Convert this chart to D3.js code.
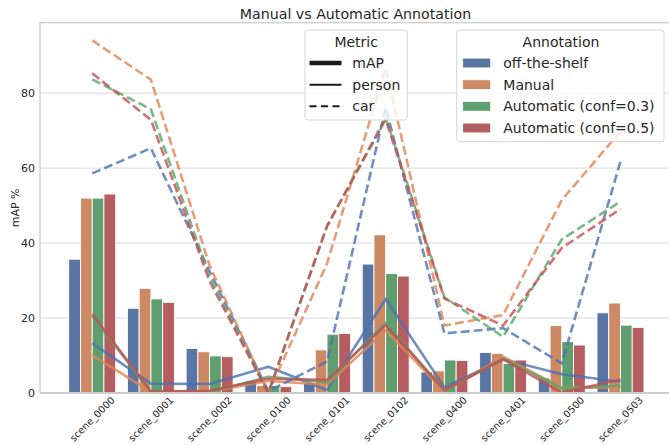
<!DOCTYPE html>
<html><head><meta charset="utf-8">
<script src="https://cdn.jsdelivr.net/npm/d3@7"></script>
<style>body{margin:0;background:#fff;} svg{display:block;font-family:"DejaVu Sans",sans-serif;}</style>
</head><body><svg id="c" width="669" height="445"></svg>
<script>
const scenes = ["scene_0000","scene_0001","scene_0002","scene_0100","scene_0101","scene_0102","scene_0400","scene_0401","scene_0500","scene_0503"];
const annotations = ["off-the-shelf","Manual","Automatic (conf=0.3)","Automatic (conf=0.5)"];
const metrics = ["mAP","person","car"];
const yTicks = [0,20,40,60,80];

// mAP (bars)
const mapOffShelf = [35.7,22.6,11.9,3.2,2.7,34.4,5.6,10.8,4.0,21.4];
const mapManual   = [52.0,27.9,11.0,2.0,11.5,42.2,5.9,10.6,18.0,24.0];
const mapAuto03   = [52.0,25.1,9.9,2.0,15.7,31.9,8.8,7.9,13.7,18.1];
const mapAuto05   = [53.1,24.2,9.7,1.7,15.9,31.2,8.7,8.8,12.8,17.5];
// person (solid lines)
const personOffShelf = [13.3,2.5,2.4,7.0,0.8,25.1,1.5,9.0,5.0,3.0];
const personManual   = [10.1,0.3,0.3,3.2,2.2,16.7,0.4,9.7,1.4,1.4];
const personAuto03   = [20.5,0.3,0.3,4.3,2.9,18.8,0.6,9.2,1.2,2.0];
const personAuto05   = [21.1,0.4,0.6,3.8,3.5,18.1,0.8,9.0,0.1,3.6];
// car (dashed lines)
const carOffShelf = [58.6,65.3,32.5,0.5,8.4,76.2,15.9,17.3,7.9,61.8];
const carManual   = [94.1,83.6,34.0,0.0,34.5,86.7,18.0,20.8,51.5,69.8];
const carAuto03   = [83.7,75.7,31.0,0.0,44.5,73.5,25.5,15.0,41.0,51.1];
const carAuto05   = [85.3,72.9,29.8,0.0,44.5,73.0,25.2,18.0,38.7,49.1];

const barColors  = ["#5975a4","#cc8963","#5f9e6e","#b55d60"];
const lineColors = ["#4c72b0","#dd8452","#55a868","#c44e52"];

const mapVals = [mapOffShelf,mapManual,mapAuto03,mapAuto05];
const personVals = [personOffShelf,personManual,personAuto03,personAuto05];
const carVals = [carOffShelf,carManual,carAuto03,carAuto05];

const svg = d3.select("#c");
const L = 40, R = 671, T = 22.7, B = 393;
const textCol = "#262626";

const x = d3.scaleBand().domain(scenes).range([62.85, 649.85]).padding(0);
const xi = d3.scaleBand().domain(annotations).range([x.bandwidth()*0.1, x.bandwidth()*0.9]).padding(0);
const y = d3.scaleLinear().domain([0, 98.8]).range([B, T]);

svg.append("defs").append("clipPath").attr("id","pc")
  .append("rect").attr("x",L).attr("y",T).attr("width",R-L).attr("height",B-T);

// grid
svg.append("g").selectAll("line").data(yTicks).join("line")
  .attr("x1",L).attr("x2",R).attr("y1",d=>y(d)).attr("y2",d=>y(d))
  .attr("stroke","#d9d9d9").attr("stroke-width",1);

// y axis labels
const yAxis = d3.axisLeft(y).tickValues(yTicks).tickSize(0).tickPadding(5);
const gy = svg.append("g").attr("transform",`translate(${L},0)`).call(yAxis);
gy.select(".domain").remove();
gy.selectAll("text").attr("font-size",11).attr("fill",textCol).attr("font-family","DejaVu Sans");

// bars
const plot = svg.append("g").attr("clip-path","url(#pc)");
annotations.forEach((a,j)=>{
  plot.append("g").selectAll("rect").data(scenes).join("rect")
    .attr("x",(s)=>x(s)+xi(a)).attr("width",xi.bandwidth())
    .attr("y",(s,i)=>y(mapVals[j][i])).attr("height",(s,i)=>B-y(mapVals[j][i]))
    .attr("fill",barColors[j]).attr("stroke","#ffffff").attr("stroke-width",0.9);
});

// lines
const cx = s => x(s) + x.bandwidth()/2;
const line = d3.line().x(d=>cx(d.s)).y(d=>y(d.v));
annotations.forEach((a,j)=>{
  plot.append("path").datum(scenes.map((s,i)=>({s,v:personVals[j][i]})))
    .attr("d",line).attr("fill","none").attr("stroke",lineColors[j]).attr("stroke-opacity",0.8)
    .attr("stroke-width",2.6).attr("stroke-linejoin","round");
});
annotations.forEach((a,j)=>{
  plot.append("path").datum(scenes.map((s,i)=>({s,v:carVals[j][i]})))
    .attr("d",line).attr("fill","none").attr("stroke",lineColors[j]).attr("stroke-opacity",0.8)
    .attr("stroke-width",2.6).attr("stroke-dasharray","9,4");
});

// frame
svg.append("rect").attr("x",L).attr("y",T).attr("width",R-L).attr("height",B-T)
  .attr("fill","none").attr("stroke","#cccccc").attr("stroke-width",1.25);
svg.append("line").attr("x1",L).attr("x2",R).attr("y1",B).attr("y2",B).attr("stroke","#cccccc").attr("stroke-width",2);

// x axis labels
const xAxis = d3.axisBottom(x).tickSize(0).tickPadding(0);
const gx = svg.append("g").attr("transform",`translate(0,${B})`).call(xAxis);
gx.select(".domain").remove();
gx.selectAll(".tick text").each(function(){
  const t = d3.select(this);
  t.attr("font-size",9.8).attr("fill",textCol).attr("font-family","DejaVu Sans")
   .attr("text-anchor","middle").attr("dy","0.35em").attr("y",0);
  const len = this.getComputedTextLength();
  const h = (len + 9.8*1.1)*Math.SQRT1_2;
  t.attr("transform",`translate(0,${1.5 + h/2}) rotate(-45)`);
});

// y label
svg.append("text").attr("transform",`translate(15,${(T+B)/2}) rotate(-90)`)
  .attr("text-anchor","middle").attr("dy","0.35em").attr("font-size",11).attr("fill",textCol).text("mAP %");

// title
svg.append("text").attr("x",(L+R)/2).attr("y",18.8).attr("text-anchor","middle")
  .attr("font-size",14.2).attr("fill",textCol).text("Manual vs Automatic Annotation");

// legends
const rowY = [63, 84.7, 106.3, 128];
// Metric legend
const lg1 = svg.append("g");
lg1.append("rect").attr("x",305).attr("y",30).attr("width",102.3).attr("height",90).attr("rx",3)
  .attr("fill","#ffffff").attr("fill-opacity",0.8).attr("stroke","#d6d6d6").attr("stroke-width",1);
lg1.append("text").attr("x",356.2).attr("y",42).attr("dy","0.35em").attr("text-anchor","middle")
  .attr("font-size",14).attr("fill",textCol).text("Metric");
const mStyles = [{w:4.5,d:null},{w:1.9,d:null},{w:1.9,d:"7,4.5"}];
metrics.forEach((m,k)=>{
  const ly = rowY[k];
  lg1.append("line").attr("x1",309.5).attr("x2",341.5).attr("y1",ly).attr("y2",ly)
    .attr("stroke","#1a1a1a").attr("stroke-width",mStyles[k].w).attr("stroke-dasharray",mStyles[k].d);
  lg1.append("text").attr("x",352.3).attr("y",ly).attr("dy","0.35em").attr("font-size",14).attr("fill",textCol).text(m);
});
// Annotation legend
const lg2 = svg.append("g");
lg2.append("rect").attr("x",456.7).attr("y",30).attr("width",207.3).attr("height",111.7).attr("rx",3)
  .attr("fill","#ffffff").attr("fill-opacity",0.8).attr("stroke","#d6d6d6").attr("stroke-width",1);
lg2.append("text").attr("x",561).attr("y",42).attr("dy","0.35em").attr("text-anchor","middle")
  .attr("font-size",14).attr("fill",textCol).text("Annotation");
annotations.forEach((a,j)=>{
  const ly = rowY[j];
  lg2.append("rect").attr("x",462.7).attr("y",ly-4.9).attr("width",28).attr("height",9.8)
    .attr("fill",barColors[j]).attr("stroke","#ffffff").attr("stroke-width",0.8);
  lg2.append("text").attr("x",503.3).attr("y",ly).attr("dy","0.35em").attr("font-size",14).attr("fill",textCol).text(a);
});
</script></body></html>
